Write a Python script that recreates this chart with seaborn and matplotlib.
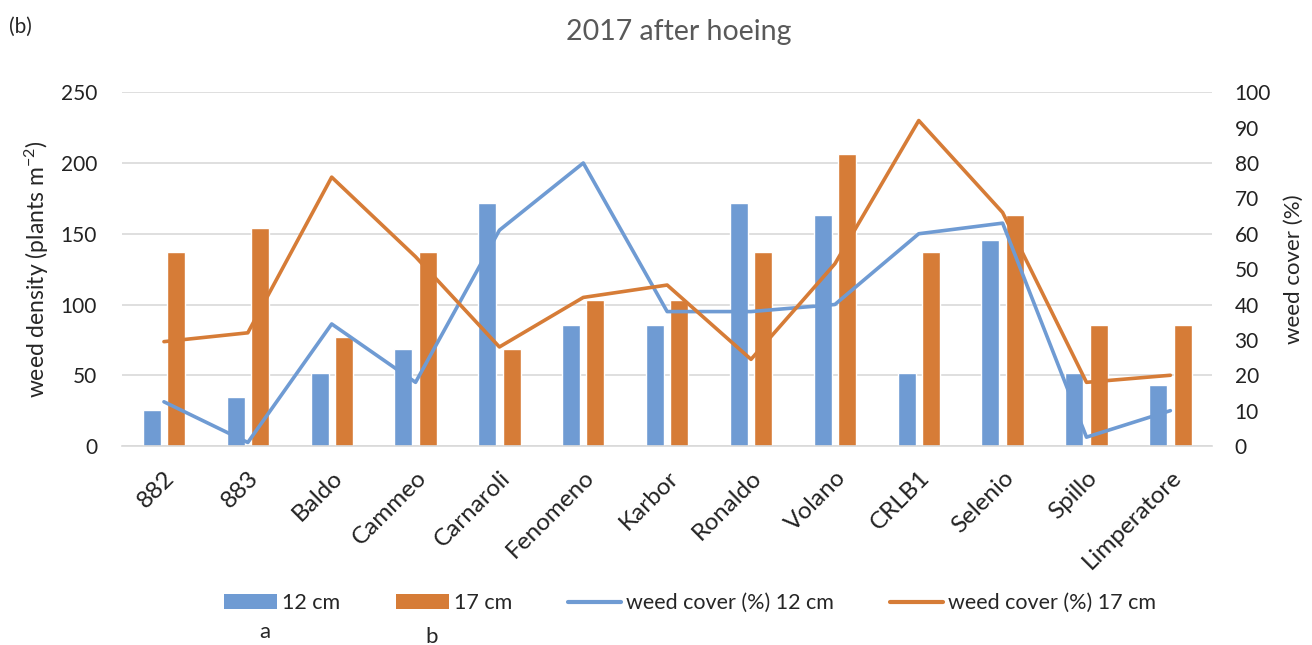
import numpy as np
import pandas as pd
import seaborn as sns
import matplotlib.pyplot as plt
from matplotlib.patches import Patch
from matplotlib.lines import Line2D

# data
varieties = ["882", "883", "Baldo", "Cammeo", "Carnaroli", "Fenomeno", "Karbor",
             "Ronaldo", "Volano", "CRLB1", "Selenio", "Spillo", "Limperatore"]
density_12 = [25.7, 34.3, 51.4, 68.6, 171.4, 85.7, 85.7, 171.4, 162.9, 51.4, 145.7, 51.4, 42.9]
density_17 = [137.1, 154.3, 77.1, 137.1, 68.6, 102.9, 102.9, 137.1, 206.5, 137.1, 162.9, 85.7, 85.7]
cover_12 = [12.5, 1.0, 34.5, 18.0, 61.0, 80.0, 38.0, 38.0, 40.0, 60.0, 63.0, 2.5, 10.0]
cover_17 = [29.5, 32.0, 76.0, 53.5, 28.0, 42.0, 45.5, 24.5, 51.5, 92.0, 66.0, 18.0, 20.0]

blue = "#6f9bd3"
orange = "#d67c37"

df = pd.DataFrame({
    "variety": varieties * 2,
    "density": density_12 + density_17,
    "spacing": ["12 cm"] * len(varieties) + ["17 cm"] * len(varieties),
})

sns.set_style("white")
plt.rcParams["font.family"] = ["Lato", "DejaVu Sans"]
plt.rcParams["mathtext.fontset"] = "custom"
plt.rcParams["mathtext.rm"] = "Lato"
plt.rcParams["mathtext.default"] = "regular"

fig = plt.figure(figsize=(13.12, 6.45), dpi=100)
ax = fig.add_axes([0.093, 0.3085, 0.831, 0.5485])

sns.barplot(data=df, x="variety", y="density", hue="spacing",
            palette=[blue, orange], width=0.58, gap=0.26, ax=ax,
            legend=False, saturation=1)

ax.set_ylim(0, 250)
ax.set_yticks(range(0, 251, 50))
ax.set_xlim(-0.5, len(varieties) - 0.5)
ax.yaxis.grid(True, color="#d9d9d9", linewidth=1.2)
ax.set_axisbelow(True)
for s in ["top", "right", "left"]:
    ax.spines[s].set_visible(False)
ax.spines["bottom"].set_color("#d9d9d9")
ax.spines["bottom"].set_linewidth(1.2)
ax.tick_params(axis="y", length=0, labelsize=15, colors="#222222", pad=18)
ax.tick_params(axis="x", length=0, labelsize=17.5, colors="#222222", pad=15)
ax.set_xlabel("")
ax.set_ylabel("weed density (plants m$^{-2}$)", fontsize=16.5, labelpad=7)
plt.setp(ax.get_xticklabels(), rotation=45, ha="right", rotation_mode="anchor")

ax2 = ax.twinx()
x = np.arange(len(varieties))
sns.lineplot(x=x, y=cover_12, color=blue, linewidth=2.6, ax=ax2)
sns.lineplot(x=x, y=cover_17, color=orange, linewidth=2.6, ax=ax2)
ax2.set_ylim(0, 100)
ax2.set_yticks(range(0, 101, 10))
for s in ax2.spines.values():
    s.set_visible(False)
ax2.tick_params(axis="y", length=0, labelsize=15, colors="#222222", pad=16)
ax2.set_ylabel("weed cover (%)", fontsize=16, labelpad=9)
ax2.grid(False)

fig.text(0.517, 0.95, "2017 after hoeing", ha="center", va="center",
         fontsize=20.5, color="#595959")
fig.text(0.007, 0.958, "(b)", ha="left", va="center", fontsize=15)

handles = [
    Patch(facecolor=blue, edgecolor="none"),
    Patch(facecolor=orange, edgecolor="none"),
    Line2D([], [], color=blue, linewidth=3),
    Line2D([], [], color=orange, linewidth=3),
]
labels = ["12 cm", "17 cm", "weed cover (%) 12 cm", "weed cover (%) 17 cm"]
fig.legend(handles, labels, loc="center", bbox_to_anchor=(0.526, 0.065), ncol=4,
           frameon=False, fontsize=15.5, handlelength=2.45, handleheight=0.7,
           handletextpad=0.25, columnspacing=2.6)
fig.text(0.202, 0.02, "a", ha="center", va="center", fontsize=16)
fig.text(0.329, 0.013, "b", ha="center", va="center", fontsize=16)

fig.savefig("out.png", dpi=100)
